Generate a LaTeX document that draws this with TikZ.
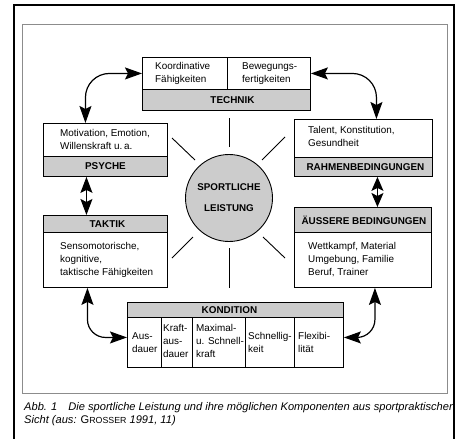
\documentclass[tikz,border=0pt]{standalone}
\usepackage{fontspec}
\setmainfont{Liberation Sans}
\usetikzlibrary{arrows.meta,calc}
\begin{document}
\begin{tikzpicture}[x=1pt,y=-1pt,
  box/.style={draw=black, line width=0.9pt, rectangle, inner sep=0pt, anchor=north west},
  band/.style={box, fill=black!20},
  bandlabel/.style={inner sep=0pt, font=\bfseries\fontsize{9.9}{11}\selectfont},
  txt/.style={inner sep=0pt, align=left, anchor=west, font=\fontsize{9.9}{13}\selectfont},
  twoway/.style={line width=1.2pt, {Stealth[length=#1,width=12pt,inset=3pt]}-{Stealth[length=#1,width=12pt,inset=3pt]}},
  twoway/.default=17pt,
  spoke/.style={line width=0.9pt},
  captext/.style={inner sep=0pt, anchor=base west, font=\itshape\fontsize{11.1}{13}\selectfont}
]
\useasboundingbox (0,0) rectangle (456,439);
\fill[white] (0,0) rectangle (456,439);

% frames
\draw[line width=2pt] (14,439) -- (14,5) -- (454,5) -- (454,439);
\draw[line width=0.7pt, black!45] (22,24) rectangle (447,393);

% TECHNIK
\node[box, minimum width=85pt, minimum height=32pt] (tk1) at (142,57) {};
\node[box, minimum width=83pt, minimum height=32pt] (tk2) at (227,57) {};
\node[band, minimum width=168pt, minimum height=21pt] (tkb) at (142,89) {};
\node[txt] (tk1t) at ([xshift=13pt]tk1.west) {Koordinative\\Fähigkeiten};
\node[txt] (tk2t) at ([xshift=15pt]tk2.west) {Bewegungs-\\fertigkeiten};
\node[bandlabel] (tkl) at ([xshift=6pt]tkb.center) {TECHNIK};

% PSYCHE
\node[box, minimum width=124pt, minimum height=33pt] (psy) at (43,123) {};
\node[band, minimum width=124pt, minimum height=20pt] (psyb) at (43,156) {};
\node[txt] (psyt) at ([xshift=17pt]psy.west) {Motivation, Emotion,\\Willenskraft u.\,a.};
\node[bandlabel] (psyl) at (psyb.center) {PSYCHE};

% RAHMENBEDINGUNGEN
\node[box, minimum width=138pt, minimum height=38pt] (rah) at (294,119) {};
\node[band, minimum width=138pt, minimum height=19pt] (rahb) at (294,157) {};
\node[txt] (raht) at ([xshift=14pt,yshift=2pt]rah.west) {Talent, Konstitution,\\Gesundheit};
\node[bandlabel] (rahl) at ([xshift=2pt]rahb.center) {RAHMENBEDINGUNGEN};

% TAKTIK
\node[band, minimum width=124pt, minimum height=17pt] (takb) at (43,215) {};
\node[box, minimum width=124pt, minimum height=55pt] (tak) at (43,232) {};
\node[bandlabel] (takl) at ([xshift=2pt]takb.center) {TAKTIK};
\node[txt] (takt) at ([xshift=17pt]tak.west) {Sensomotorische,\\kognitive,\\taktische Fähigkeiten};

% AEUSSERE BEDINGUNGEN
\node[band, minimum width=137pt, minimum height=25pt] (ausb) at (294,207) {};
\node[box, minimum width=137pt, minimum height=55pt] (aus) at (294,232) {};
\node[bandlabel] (ausl) at ([xshift=1pt]ausb.center) {ÄUSSERE BEDINGUNGEN};
\node[txt] (aust) at ([xshift=14pt]aus.west) {Wettkampf, Material\\Umgebung, Familie\\Beruf, Trainer};

% KONDITION
\node[band, minimum width=216pt, minimum height=15pt] (konb) at (127,302) {};
\node[box, minimum width=34pt, minimum height=50pt] (k1) at (127,317) {};
\node[box, minimum width=31pt, minimum height=50pt] (k2) at (161,317) {};
\node[box, minimum width=53pt, minimum height=50pt] (k3) at (192,317) {};
\node[box, minimum width=49pt, minimum height=50pt] (k4) at (245,317) {};
\node[box, minimum width=49pt, minimum height=50pt] (k5) at (294,317) {};
\node[bandlabel] (konl) at ([xshift=-6pt]konb.center) {KONDITION};
\node[txt] (k1t) at ([xshift=5pt]k1.west) {Aus-\\dauer};
\node[txt] (k2t) at ([xshift=2pt,yshift=1pt]k2.west) {Kraft-\\aus-\\dauer};
\node[txt] (k3t) at ([xshift=4pt,yshift=1pt]k3.west) {Maximal-\\u. Schnell-\\kraft};
\node[txt] (k4t) at ([xshift=3pt]k4.west) {Schnellig-\\keit};
\node[txt] (k5t) at ([xshift=4pt]k5.west) {Flexibi-\\lität};

% centre circle
\node[circle, draw=black, line width=0.9pt, fill=black!20, minimum size=87pt, inner sep=0pt,
      align=center, font=\bfseries\fontsize{9.8}{21}\selectfont] (circ) at (229,198) {SPORTLICHE\\LEISTUNG};

% spokes
\draw[spoke] (circ.center) +(0,-51) -- +(0,-80);
\draw[spoke] (circ.center) +(0,50) -- +(0,90);
\draw[spoke] (circ.center) +(-34,-38) -- +(-57,-60);
\draw[spoke] (circ.center) +(33,-38) -- +(56,-61);
\draw[spoke] (circ.center) +(-36,39) -- +(-57,60);
\draw[spoke] (circ.center) +(34,39) -- +(56,60);

% connectors
\draw[twoway, rounded corners=24pt] (tk1.west) -| ([xshift=-20pt]psy.north);
\draw[twoway, rounded corners=24pt] (tk2.east) -| ([xshift=13pt]rah.north);
\draw[twoway=16pt] ([xshift=-19pt]psyb.south) -- ([xshift=-19pt]takb.north);
\draw[twoway=14pt] ([xshift=14pt]rahb.south) -- ([xshift=14pt]rahb.south |- ausb.north);
\draw[twoway, rounded corners=18pt] ([xshift=-18pt]tak.south) |- ([yshift=5pt]k1.west);
\draw[twoway, rounded corners=18pt] ([xshift=12pt]aus.south) |- ([yshift=5pt]k5.east);

% caption
\node[captext] (cap1) at (24,410) {Abb. 1\quad Die sportliche Leistung und ihre möglichen Komponenten aus sportpraktischer};
\node[captext] (cap2) at (24,423) {Sicht (aus: {\upshape G\fontsize{8.8}{13}\selectfont ROSSER} 1991, 11)};
\end{tikzpicture}
\end{document}
